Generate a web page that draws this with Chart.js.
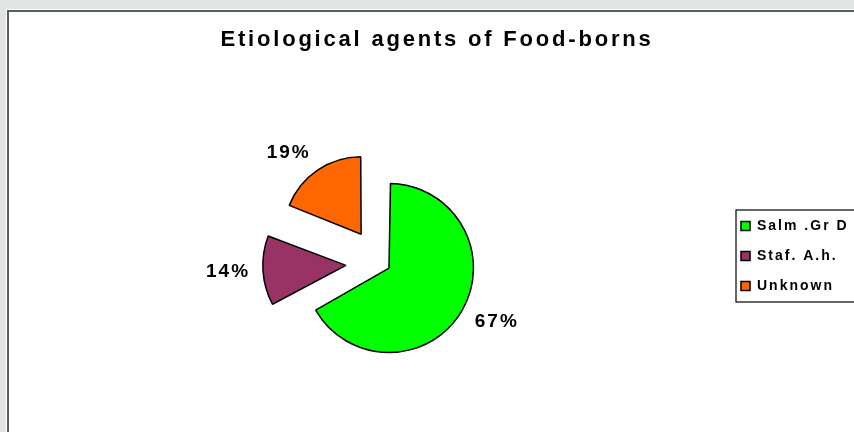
<!DOCTYPE html>
<html>
<head>
<meta charset="utf-8">
<script src="https://cdn.jsdelivr.net/npm/chart.js@4/dist/chart.umd.min.js"></script>
<style>
  html, body { margin: 0; padding: 0; width: 854px; height: 432px; overflow: hidden; background: #e1e4e5; }
  #frame { position: absolute; left: 6px; top: 9px; width: 1000px; height: 1000px; background: #fff; }
  #panel { position: absolute; left: 1px; top: 1px; right: 0; bottom: 0; background: #fff;
           border-left: 2px solid #5c5c5c; border-top: 2px solid #5c5c5c; }
  #chart { position: absolute; left: 0; top: 0; z-index: 1; }
</style>
</head>
<body>
<div id="frame"><div id="panel"></div></div>
<canvas id="chart" width="900" height="432"></canvas>
<script>
// dados
var agents = ['Salm .Gr D', 'Staf. A.h.', 'Unknown'];
var shares = [67, 14, 19];
var sliceColors = ['#00ff00', '#993366', '#ff6600'];
var explode = [38, 140, 140];

var chartTitle = 'Etiological agents of Food-borns';
var titleCenterX = 437;
var legendWidth = 175;

// roda fn com espacamento de letras no contexto
var spaced = function (ctx, px, fn) {
  var prev = ctx.letterSpacing;
  ctx.letterSpacing = px;
  fn();
  ctx.letterSpacing = prev;
};

// texto largo como no original + largura fixa da legenda
var boxTweaks = {
  id: 'boxTweaks',
  afterInit: function (chart) {
    var lg = chart.legend, tb = chart.titleBlock;
    var lgFit = lg.fit.bind(lg), lgDraw = lg.draw.bind(lg), tbDraw = tb.draw.bind(tb);
    lg.fit = function () {
      spaced(chart.ctx, '2px', lgFit);
      lg.width = legendWidth;
    };
    lg.draw = function () { spaced(chart.ctx, '2px', lgDraw); };
    tb.draw = function () {
      var c = chart.ctx;
      c.save();
      c.translate(titleCenterX - (tb.left + tb.right) / 2, 0);
      spaced(c, '2.8px', tbDraw);
      c.restore();
    };
  }
};

// moldura da legenda
var legendBorder = {
  id: 'legendBorder',
  afterDraw: function (chart) {
    var lg = chart.legend;
    var boxes = lg.legendHitBoxes;
    if (!boxes || !boxes.length) return;
    var ctx = chart.ctx;
    var pad = lg.options.labels.padding;
    var x = lg.left + pad - 5;
    var top = boxes[0].top - 9;
    var last = boxes[boxes.length - 1];
    var bottom = last.top + last.height + 9;
    ctx.save();
    ctx.strokeStyle = '#000';
    ctx.lineWidth = 1.2;
    ctx.strokeRect(x, top, chart.width, bottom - top);
    ctx.restore();
  }
};

// rotulos de porcentagem fora das fatias (ancora no fim da bissetriz, como no Excel)
var percentLabels = {
  id: 'percentLabels',
  afterDatasetsDraw: function (chart) {
    var ctx = chart.ctx;
    var meta = chart.getDatasetMeta(0);
    var total = shares.reduce(function (a, b) { return a + b; }, 0);
    ctx.save();
    ctx.font = 'bold 19px "Liberation Sans", Arial, sans-serif';
    ctx.letterSpacing = '2px';
    ctx.fillStyle = '#000';
    ctx.textAlign = 'center';
    ctx.textBaseline = 'middle';
    meta.data.forEach(function (arc, i) {
      var p = arc.getProps(['x', 'y', 'startAngle', 'endAngle', 'outerRadius', 'circumference'], true);
      var mid = (p.startAngle + p.endAngle) / 2;
      var off = (arc.options.offset || 0) / 4;
      var fix = 1 - Math.sin(Math.min(Math.PI, p.circumference));
      var r = p.outerRadius + off * fix;
      var text = Math.round(shares[i] / total * 100) + '%';
      var w = ctx.measureText(text).width;
      var cos = Math.cos(mid), sin = Math.sin(mid);
      var ax = p.x + cos * (off + r + 14);
      var ay = p.y + sin * (off + r + 14);
      ctx.fillText(text, ax + (cos < 0 ? -1 : 1) * w / 2 + 1, ay + sin * 7);
    });
    ctx.restore();
  }
};

var ctx = document.getElementById('chart').getContext('2d');
window.foodChart = new Chart(ctx, {
  type: 'pie',
  data: {
    labels: agents,
    datasets: [{
      data: shares,
      backgroundColor: sliceColors,
      borderColor: '#000',
      borderWidth: 1.5,
      offset: explode,
      hoverOffset: 0,
      radius: 75,
      clip: false
    }]
  },
  options: {
    responsive: false,
    animation: false,
    events: [],
    layout: {
      padding: { left: 36.6, right: 0, top: 0, bottom: 15.6 }
    },
    plugins: {
      tooltip: { enabled: false },
      title: {
        display: true,
        text: chartTitle,
        color: '#000',
        font: { family: '"Liberation Sans", Arial, sans-serif', size: 22, weight: 'bold' },
        padding: { top: 26.5, bottom: 57.1 }
      },
      legend: {
        position: 'right',
        align: 'start',
        title: { display: true, text: '', font: { size: 10 }, padding: { top: 191, bottom: 0 } },
        labels: {
          color: '#000',
          font: { family: '"Liberation Sans", Arial, sans-serif', size: 14, weight: 'bold' },
          boxWidth: 9,
          boxHeight: 9,
          padding: 16
        }
      }
    }
  },
  plugins: [boxTweaks, legendBorder, percentLabels]
});
</script>
</body>
</html>
